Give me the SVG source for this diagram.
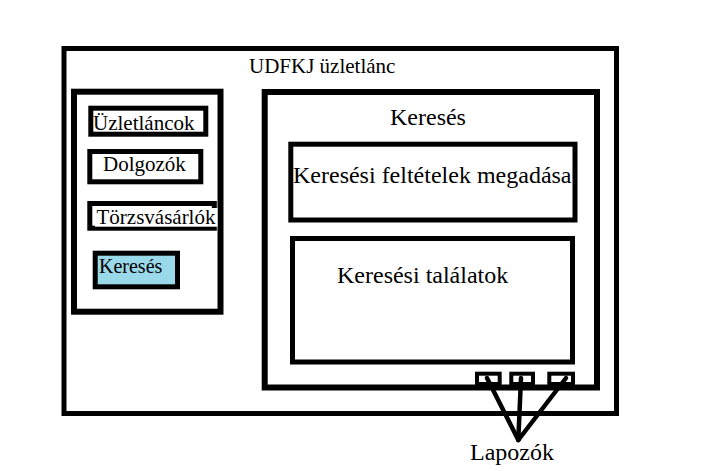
<svg xmlns="http://www.w3.org/2000/svg" width="705" height="471" viewBox="0 0 705 471">
<style>
.b{fill:#fff;stroke:#000;stroke-width:5}
.p{fill:#fff;stroke:#000;stroke-width:6}
.s{fill:#fff;stroke:#000;stroke-width:4}
text{font-family:"Liberation Serif","Times New Roman",serif;fill:#000}
.t21{font-size:21px}
.t24{font-size:24px}
.c{stroke:#000;stroke-width:4.5;stroke-linecap:round;fill:none}
</style>
<rect width="705" height="471" fill="#fff"/>
<g id="outer">
<rect class="b" x="64" y="48.5" width="552.5" height="365"/>
<text class="t21" x="249" y="73">UDFKJ üzletlánc</text>
</g>
<g id="menu">
<rect class="p" x="74" y="91.7" width="146.5" height="220"/>
</g>
<g id="uzletlancok">
<rect class="b" x="90.8" y="108.2" width="115" height="26"/>
<text class="t21" x="93" y="129.5">Üzletláncok</text>
</g>
<g id="dolgozok">
<rect class="b" x="89.8" y="151.5" width="111" height="30.3"/>
<text class="t21" x="103" y="171">Dolgozók</text>
</g>
<g id="torzsvasarlok">
<rect class="b" x="89.8" y="203.5" width="124.5" height="24.7"/>
<rect x="95" y="208" width="122.5" height="18.7" fill="#fff"/>
<text class="t21" x="96.5" y="224.3">Törzsvásárlók</text>
</g>
<g id="kereses-menu">
<rect class="b" x="95.2" y="253.2" width="82.3" height="33.6" style="fill:#99d9ea"/>
<text x="99" y="273" style="font-size:20px">Keresés</text>
</g>
<g id="kereses-panel">
<rect class="p" x="264.7" y="92" width="332.3" height="295.5"/>
<text class="t24" x="390" y="125">Keresés</text>
</g>
<g id="feltetelek">
<rect class="b" x="290.8" y="144.2" width="284.2" height="75.8"/>
<text class="t24" x="293" y="183">Keresési feltételek megadása</text>
</g>
<g id="talalatok">
<rect class="b" x="292.5" y="238.5" width="280" height="123.5"/>
<text class="t24" x="337" y="283">Keresési találatok</text>
</g>
<g id="lapozo1"><rect class="s" x="477" y="373.7" width="22.7" height="10.3"/></g>
<g id="lapozo2"><rect class="s" x="511.3" y="373.7" width="21.7" height="10.3"/></g>
<g id="lapozo3"><rect class="s" x="549.3" y="373.7" width="23.7" height="10.3"/></g>
<g id="connectors">
<line class="c" x1="487" y1="378" x2="518.3" y2="440"/>
<line class="c" x1="521" y1="378" x2="518.3" y2="440"/>
<line class="c" x1="566" y1="378" x2="518.3" y2="440"/>
</g>
<g id="lapozok">
<text class="t24" x="470" y="460">Lapozók</text>
</g>
</svg>
